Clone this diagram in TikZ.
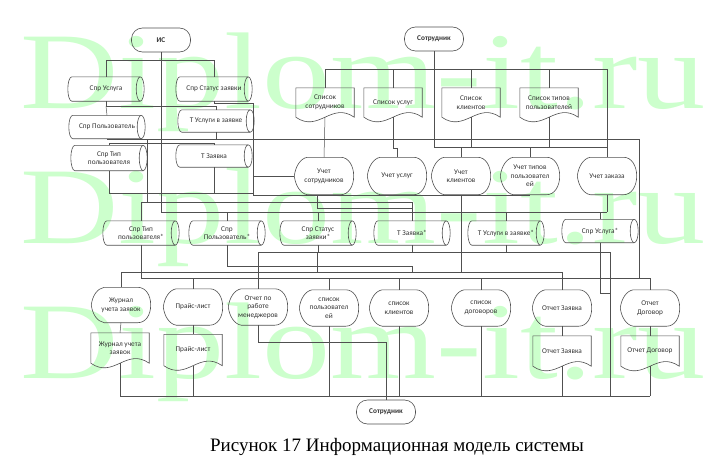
\documentclass[tikz,border=0pt]{standalone}
\usepackage{fontspec}
\usepackage{graphicx}
\setmainfont{Carlito}
\newfontfamily\capfont{Liberation Serif}
\usetikzlibrary{calc}
\definecolor{wm}{RGB}{204,255,204}
\definecolor{ink}{RGB}{80,80,80}
\definecolor{txt}{RGB}{50,50,50}
\newcommand\cylo[1]{%
 \draw[shp] ($(#1.north west)+(4,0)$) -- ($(#1.north east)+(-4,0)$)
 .. controls ($(#1.north east)+(-1.8,0)$) and ($(#1.east)+(0,-6.5)$) .. (#1.east)
 .. controls ($(#1.east)+(0,6.5)$) and ($(#1.south east)+(-1.8,0)$) .. ($(#1.south east)+(-4,0)$)
 -- ($(#1.south west)+(4,0)$)
 .. controls ($(#1.south west)+(1.8,0)$) and ($(#1.west)+(0,6.5)$) .. (#1.west)
 .. controls ($(#1.west)+(0,-6.5)$) and ($(#1.north west)+(1.8,0)$) .. cycle;
 \draw[shp] ($(#1.north east)+(-4,0)$) .. controls ($(#1.north east)+(-6.2,0)$) and ($(#1.east)+(-8,-6.5)$) .. ($(#1.east)+(-8,0)$)
 .. controls ($(#1.east)+(-8,6.5)$) and ($(#1.south east)+(-6.2,0)$) .. ($(#1.south east)+(-4,0)$);}
\newcommand\dispo[1]{%
 \draw[shp] ($(#1.north west)+(13,0)$) -- ($(#1.north east)+(-13,0)$)
 .. controls ($(#1.north east)+(-5,0)$) and ($(#1.east)+(0,-10)$) .. (#1.east)
 .. controls ($(#1.east)+(0,10)$) and ($(#1.south east)+(-5,0)$) .. ($(#1.south east)+(-13,0)$)
 -- ($(#1.south west)+(13,0)$)
 .. controls ($(#1.south west)+(6,-1)$) and ($(#1.west)+(1,9)$) .. (#1.west)
 .. controls ($(#1.west)+(1,-9)$) and ($(#1.north west)+(6,1)$) .. cycle;}
\newcommand\doco[1]{%
 \draw[shp] (#1.south west) -- (#1.north west) -- (#1.north east) -- (#1.south east)
 .. controls ($(#1.south east)+(-23,-16)$) and ($(#1.south west)+(23,16)$) .. (#1.south west) -- cycle;}
\begin{document}
\begin{tikzpicture}[x=1pt,y=-1pt,
  font=\fontsize{7.3}{8.6}\selectfont, text=txt,
  ln/.style={draw=ink,line width=0.5pt},
  shp/.style={draw=ink,line width=0.6pt},
  wmark/.style={text=wm,font=\capfont\fontsize{109}{109}\selectfont,anchor=base,inner sep=0pt},
  term/.style={draw=ink,line width=0.6pt,rounded corners=11pt,minimum width=59pt,minimum height=24pt,inner sep=0pt,font=\fontsize{7.3}{8.6}\selectfont\bfseries},
  cylnode/.style={minimum width=76pt,minimum height=23pt,inner sep=0pt,align=center},
  dspnode/.style={minimum width=59pt,minimum height=36pt,inner sep=0pt,align=center},
  docnode/.style={minimum width=58pt,minimum height=29pt,inner sep=0pt,align=center}]
\useasboundingbox (0,0) rectangle (706,460);
% watermark
\node[wmark] (w1) at (363,108) {\scalebox{1.25}[1]{Diplom-it.ru}};
\node[wmark] (w2) at (363,243) {\scalebox{1.25}[1]{Diplom-it.ru}};
\node[wmark] (w3) at (363,378) {\scalebox{1.25}[1]{Diplom-it.ru}};
% terminators
\node[term] (is) at (161,40) {ИС};
\node[term] (sot1) at (434,39) {Сотрудник};
\node[term] (sot2) at (386,412) {Сотрудник};
% left cylinders
\node[cylnode,minimum height=24pt] (c1) at (106,89) {Спр Услуга};
\node[cylnode,minimum height=24pt] (c2) at (214,89) {Спр Статус заявки};
\node[cylnode] (c3) at (107,127) {Спр Пользователь};
\node[cylnode,minimum height=22pt] (c4) at (216,121) {Т Услуги в заявке};
\node[cylnode,minimum height=25pt] (c5) at (109,158) {Спр Тип\\пользователя};
\node[cylnode,minimum height=22pt] (c6) at (214,156) {Т Заявка};
\foreach \n in {c1,c2,c3,c4,c5,c6} {\cylo{\n}}
% top documents
\node[docnode] (d1) at (325,102.5) {Список\\сотрудников};
\node[docnode] (d2) at (393,102.5) {Список услуг};
\node[docnode] (d3) at (471,102.5) {Список\\клиентов};
\node[docnode] (d4) at (549,102.5) {Список типов\\пользователей};
\foreach \n in {d1,d2,d3,d4} {\doco{\n}}
% processes
\node[dspnode,minimum height=37pt] (u1) at (324,176) {Учет\\сотрудников};
\node[dspnode,minimum height=37pt] (u2) at (397,176) {Учет услуг};
\node[dspnode,minimum height=37pt] (u3) at (461,176) {Учет\\клиентов};
\node[dspnode,minimum height=37pt] (u4) at (530,176) {Учет типов\\пользовател\\ей};
\node[dspnode,minimum height=37pt] (u5) at (607,176) {Учет заказа};
\foreach \n in {u1,u2,u3,u4,u5} {\dispo{\n}}
% row 3 cylinders
\node[cylnode,minimum height=24pt] (r1) at (141,233) {Спр Тип\\пользователя*};
\node[cylnode,minimum height=24pt] (r2) at (227,233) {Спр\\Пользователь*};
\node[cylnode,minimum height=24pt] (r3) at (318,233) {Спр Статус\\заявки*};
\node[cylnode,minimum height=24pt] (r4) at (412,233) {Т Заявка*};
\node[cylnode,minimum height=24pt] (r5) at (506,233) {Т Услуги в заявке*};
\node[cylnode,minimum height=23pt] (r6) at (600,231) {Спр Услуга*};
\foreach \n in {r1,r2,r3,r4,r5,r6} {\cylo{\n}}
% row 4 displays
\node[dspnode,minimum height=35pt] (o1) at (121,305) {Журнал\\учета заявок};
\node[dspnode] (o2) at (193,307) {Прайс-лист};
\node[dspnode] (o3) at (258,307) {Отчет по\\работе\\менеджеров};
\node[dspnode] (o4) at (329,308) {список\\пользовател\\ей};
\node[dspnode] (o5) at (399,308) {список\\клиентов};
\node[dspnode] (o6) at (481,308) {список\\договоров};
\node[dspnode] (o7) at (562,308) {Отчет Заявка};
\node[dspnode] (o8) at (650,308) {Отчет\\Договор};
\foreach \n in {o1,o2,o3,o4,o5,o6,o7,o8} {\dispo{\n}}
% row 5 documents
\node[docnode,minimum height=30pt] (p1) at (120,348) {Журнал учета\\заявок};
\node[docnode,minimum height=31pt] (p2) at (193,350) {Прайс-лист};
\node[docnode,minimum height=30pt] (p3) at (562,351) {Отчет Заявка};
\node[docnode,minimum height=30pt] (p4) at (650,351) {Отчет Договор};
\foreach \n in {p1,p2,p3,p4} {\doco{\n}}
% ---- connectors: top left group
\draw[ln] (is.south) -- (161,212);
\draw[ln] (c1.north) -- (106,60) -- (214,60) -- (c2.north);
\draw[ln] (c1.south) -- (106,106) -- (216,106) -- (c4.north);
\draw[ln] (106,106) -- (c3.north);
\draw[ln] (c2.south) -- (214,103) -- (253,103) -- (253,195);
\draw[ln] (c3.south) -- (107,139) -- (639,139) -- (639,278);
\draw[ln] (109,143) -- (214,143);
\draw[ln] (109,143) -- (c5.north);
\draw[ln] (214,143) -- (c6.north);
\draw[ln] (c4.south) -- (216,139);
\draw[ln] (147,139) -- (147,202);
\draw[ln] (c5.south) -- (109,193) -- (253,193);
\draw[ln] (c6.south) -- (214,193);
\draw[ln] (253,176) -- (u1.west);
\draw[ln] (253,195) -- (530,195);
% ---- top right group
\draw[ln] (sot1.south) -- (434,147) -- (607,147);
\draw[ln] (325,69) -- (607,69) -- (u5.north);
\draw[ln] (d1.north) -- (325,69);
\draw[ln] (d2.north) -- (393,69);
\draw[ln] (d3.north) -- (471,69);
\draw[ln] (d4.north) -- (549,69);
\draw[ln] (d1.south) -- (u1.north);
\draw[ln] (d2.south) -- (393,148) -- (397,148) -- (u2.north);
\draw[ln] (d3.south) -- (471,147);
\draw[ln] (461,147) -- (u3.north);
\draw[ln] (d4.south) -- (549,147);
\draw[ln] (530,147) -- (u4.north);
% ---- row 2 to row 3
\draw[ln] (141,202) -- (412,202) -- (r4.north);
\draw[ln] (141,202) -- (r1.north);
\draw[ln] (161,212) -- (607,212);
\draw[ln] (u5.south) -- (607,212);
\draw[ln] (227,212) -- (r2.north);
\draw[ln] (318,212) -- (r3.north);
\draw[ln] (506,212) -- (r5.north);
\draw[ln] (600,212) -- (r6.north);
\draw[ln] (317,195) -- (317,208) -- (412,208);
\draw[ln] (461,195) -- (461,272);
% ---- row 3 to row 4
\draw[ln] (258,252) -- (610,252) -- (610,396);
\draw[ln] (r3.south) -- (318,252);
\draw[ln] (r4.south) -- (412,252);
\draw[ln] (r5.south) -- (506,252);
\draw[ln] (r6.south) -- (600,252);
\draw[ln] (258,252) -- (o3.north);
\draw[ln] (r2.south) -- (227,266) -- (412,266) -- (412,272);
\draw[ln] (121,272) -- (562,272);
\draw[ln] (121,272) -- (o1.north);
\draw[ln] (562,272) -- (o7.north);
\draw[ln] (317,252) -- (317,272);
\draw[ln] (r1.south) -- (141,278) -- (650,278) -- (o8.north);
\draw[ln] (193,278) -- (o2.north);
\draw[ln] (329,278) -- (o4.north);
\draw[ln] (399,278) -- (o5.north);
\draw[ln] (481,278) -- (o6.north);
\draw[ln] (600,252) -- (600,293) -- (610,293);
% ---- row 4 to row 5 and bottom
\draw[ln] (o1.south) -- (p1.north);
\draw[ln] (o2.south) -- (p2.north);
\draw[ln] (o7.south) -- (p3.north);
\draw[ln] (o8.south) -- (p4.north);
\draw[ln] (120,396) -- (650,396);
\draw[ln] (p1.south) -- (120,396);
\draw[ln] (p2.south) -- (193,396);
\draw[ln] (o4.south) -- (329,396);
\draw[ln] (o5.south) -- (399,396);
\draw[ln] (o6.south) -- (481,396);
\draw[ln] (p3.south) -- (562,396);
\draw[ln] (p4.south) -- (650,396);
\draw[ln] (o3.south) -- (258,342) -- (386,342) -- (sot2.north);
% caption
\node[font=\capfont\fontsize{19}{22}\selectfont,text=black,inner sep=0pt] (cap) at (397,447) {Рисунок 17 Информационная модель системы};
\end{tikzpicture}
\end{document}
